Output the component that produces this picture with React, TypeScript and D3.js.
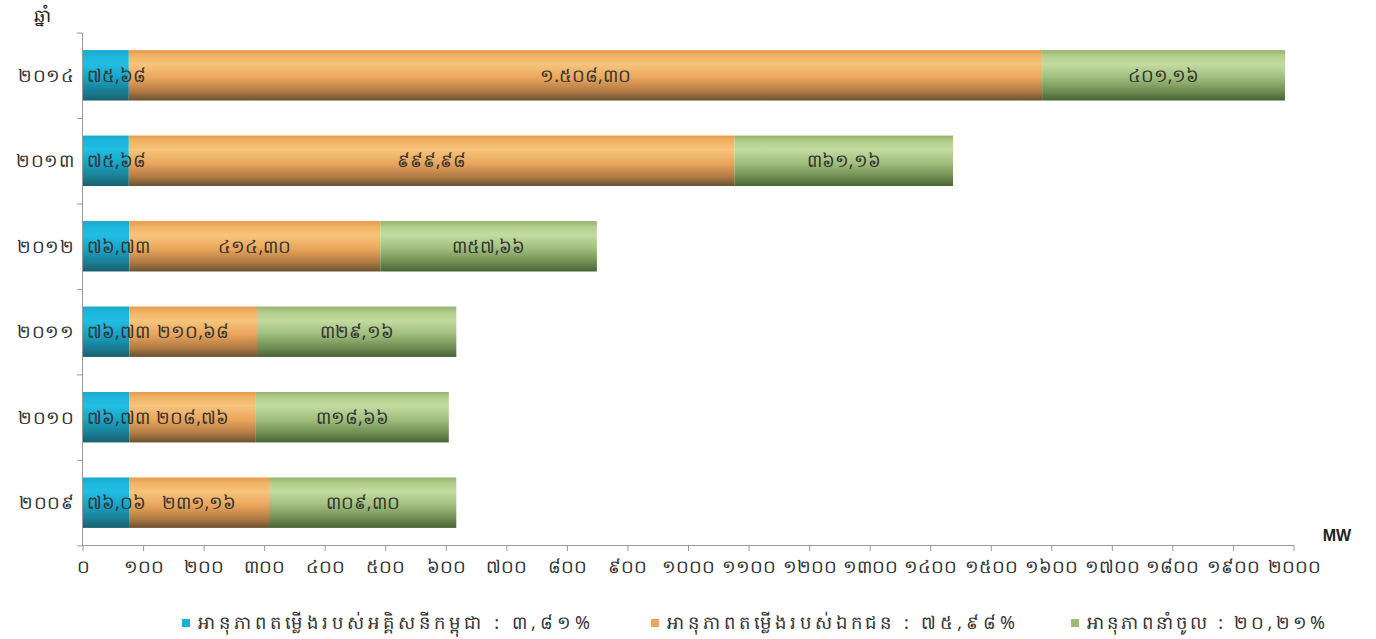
import React from "react";
import * as d3 from "d3";

const years = ["២០០៩", "២០១០", "២០១១", "២០១២", "២០១៣", "២០១៤"];
const edcValues = [76.06, 76.73, 76.73, 76.73, 75.68, 75.68];
const privateValues = [231.16, 208.76, 210.68, 414.3, 999.98, 1508.3];
const importValues = [309.3, 318.66, 329.16, 357.66, 361.16, 401.16];
const edcLabels = ["៧៦,០៦", "៧៦,៧៣", "៧៦,៧៣", "៧៦,៧៣", "៧៥,៦៨", "៧៥,៦៨"];
const privateLabels = ["២៣១,១៦", "២០៨,៧៦", "២១០,៦៨", "៤១៤,៣០", "៩៩៩,៩៨", "១.៥០៨,៣០"];
const importLabels = ["៣០៩,៣០", "៣១៨,៦៦", "៣២៩,១៦", "៣៥៧,៦៦", "៣៦១,១៦", "៤០១,១៦"];
const xTicks = d3.range(0, 2001, 100);
const khmerDigits = "០១២៣៤៥៦៧៨៩";
const toKhmer = (n: number) => String(n).replace(/\d/g, (d) => khmerDigits[+d]);
const legendLabels = [
  "អានុភាពតម្លើងរបស់អគ្គិសនីកម្ពុជា : ៣,៨១%",
  "អានុភាពតម្លើងរបស់ឯកជន : ៧៥,៩៨%",
  "អានុភាពនាំចូល : ២០,២១%",
];
const yTitle = "ឆ្នាំ";
const xTitle = "MW";

const FONT = "'Noto Sans', 'DejaVu Sans', sans-serif";

const seriesList = [
  { key: "edc", values: edcValues, labels: edcLabels, grad: "gCyan", legend: "#1cb0d4" },
  { key: "priv", values: privateValues, labels: privateLabels, grad: "gOrange", legend: "#f0a55a" },
  { key: "imp", values: importValues, labels: importLabels, grad: "gGreen", legend: "#9cbc72" },
];

export default function App() {
  const W = 1376;
  const H = 639;
  const x = d3.scaleLinear().domain([0, 2000]).range([83, 1294]);
  const yOrder = [...years].reverse(); // top = 2014
  const y = d3.scaleBand().domain(yOrder).range([33, 545]).paddingInner(0.41).paddingOuter(0.2);
  const bandStep = y.step();

  const grads: [string, string[]][] = [
    ["gCyan", ["#19a9cc", "#1db6dc", "#22bde2", "#18a4c6", "#1a7d93", "#19606e"]],
    ["gOrange", ["#e89a4c", "#f1b466", "#f6c47c", "#eaa55c", "#b07a44", "#6a5232"]],
    ["gGreen", ["#93b46c", "#b4cf8c", "#c3dba0", "#9fbe7c", "#6f8c52", "#4a6335"]],
  ];
  const stops = [0, 0.12, 0.28, 0.55, 0.82, 1];
  const legendX = [186, 655, 1075];
  const legendW = [392, 348, 238];

  return (
    <svg width={W} height={H} style={{ display: "block", position: "absolute", left: 0, top: 0 }}>
      <defs>
        {grads.map(([id, cols]) => (
          <linearGradient key={id} id={id} x1="0" y1="0" x2="0" y2="1">
            {cols.map((c, i) => (
              <stop key={i} offset={stops[i]} stopColor={c} />
            ))}
          </linearGradient>
        ))}
      </defs>
      <rect width={W} height={H} fill="#ffffff" />
      <text x={42} y={22} fontFamily={FONT} fontSize={18} fill="#222" textAnchor="middle">
        {yTitle}
      </text>
      {years.map((yr, i) => {
        let cum = 0;
        const y0 = y(yr) as number;
        const bh = y.bandwidth();
        return (
          <g key={yr}>
            {seriesList.map((s) => {
              const start = cum;
              const v = s.values[i];
              cum += v;
              const x0 = x(start);
              const x1 = x(start + v);
              return <rect key={s.key} x={x0} y={y0} width={x1 - x0} height={bh} fill={`url(#${s.grad})`} />;
            })}
            {(() => {
              let c = 0;
              return seriesList.map((s) => {
                const start = c;
                c += s.values[i];
                const cx = s.key === "edc" ? x(start) + 4 : (x(start) + x(c)) / 2;
                return (
                  <text
                    key={s.key + "t"}
                    x={cx}
                    y={y0 + bh / 2}
                    dy="0.35em"
                    textAnchor={s.key === "edc" ? "start" : "middle"}
                    fontFamily={FONT}
                    fontSize={18}
                    fill="#333"
                  >
                    {s.labels[i]}
                  </text>
                );
              });
            })()}
            <text
              x={75}
              y={y0 + bh / 2}
              dy="0.35em"
              textAnchor="end"
              fontFamily={FONT}
              fontSize={18}
              letterSpacing={0.8}
              fill="#333"
            >
              {yr}
            </text>
          </g>
        );
      })}
      <line x1={82.5} x2={82.5} y1={33} y2={545} stroke="#999" strokeWidth={1} />
      {d3.range(0, years.length + 1).map((k) => (
        <line key={k} x1={77} x2={82.5} y1={33 + k * bandStep} y2={33 + k * bandStep} stroke="#999" />
      ))}
      <line x1={82} x2={1294} y1={545.5} y2={545.5} stroke="#999" strokeWidth={1} />
      {xTicks.map((t) => (
        <g key={t}>
          <line x1={x(t)} x2={x(t)} y1={545.5} y2={551} stroke="#999" />
          <text
            x={x(t)}
            y={567}
            dy="0.35em"
            textAnchor="middle"
            fontFamily={FONT}
            fontSize={18}
            fill="#333"
          >
            {toKhmer(t)}
          </text>
        </g>
      ))}
      <text x={1337} y={541} textAnchor="middle" fontFamily="'Liberation Sans', Arial, sans-serif" fontWeight="bold" fontSize={16} fill="#222">
        {xTitle}
      </text>
      {seriesList.map((s, i) => (
        <g key={s.key + "l"}>
          <rect x={legendX[i] - 4} y={619} width={8} height={8} fill={s.legend} />
          <text
            x={legendX[i] + 12}
            y={623}
            dy="0.35em"
            fontFamily={FONT}
            fontSize={18}
            textLength={legendW[i]}
            lengthAdjust="spacing"
            fill="#333"
          >
            {legendLabels[i]}
          </text>
        </g>
      ))}
    </svg>
  );
}
